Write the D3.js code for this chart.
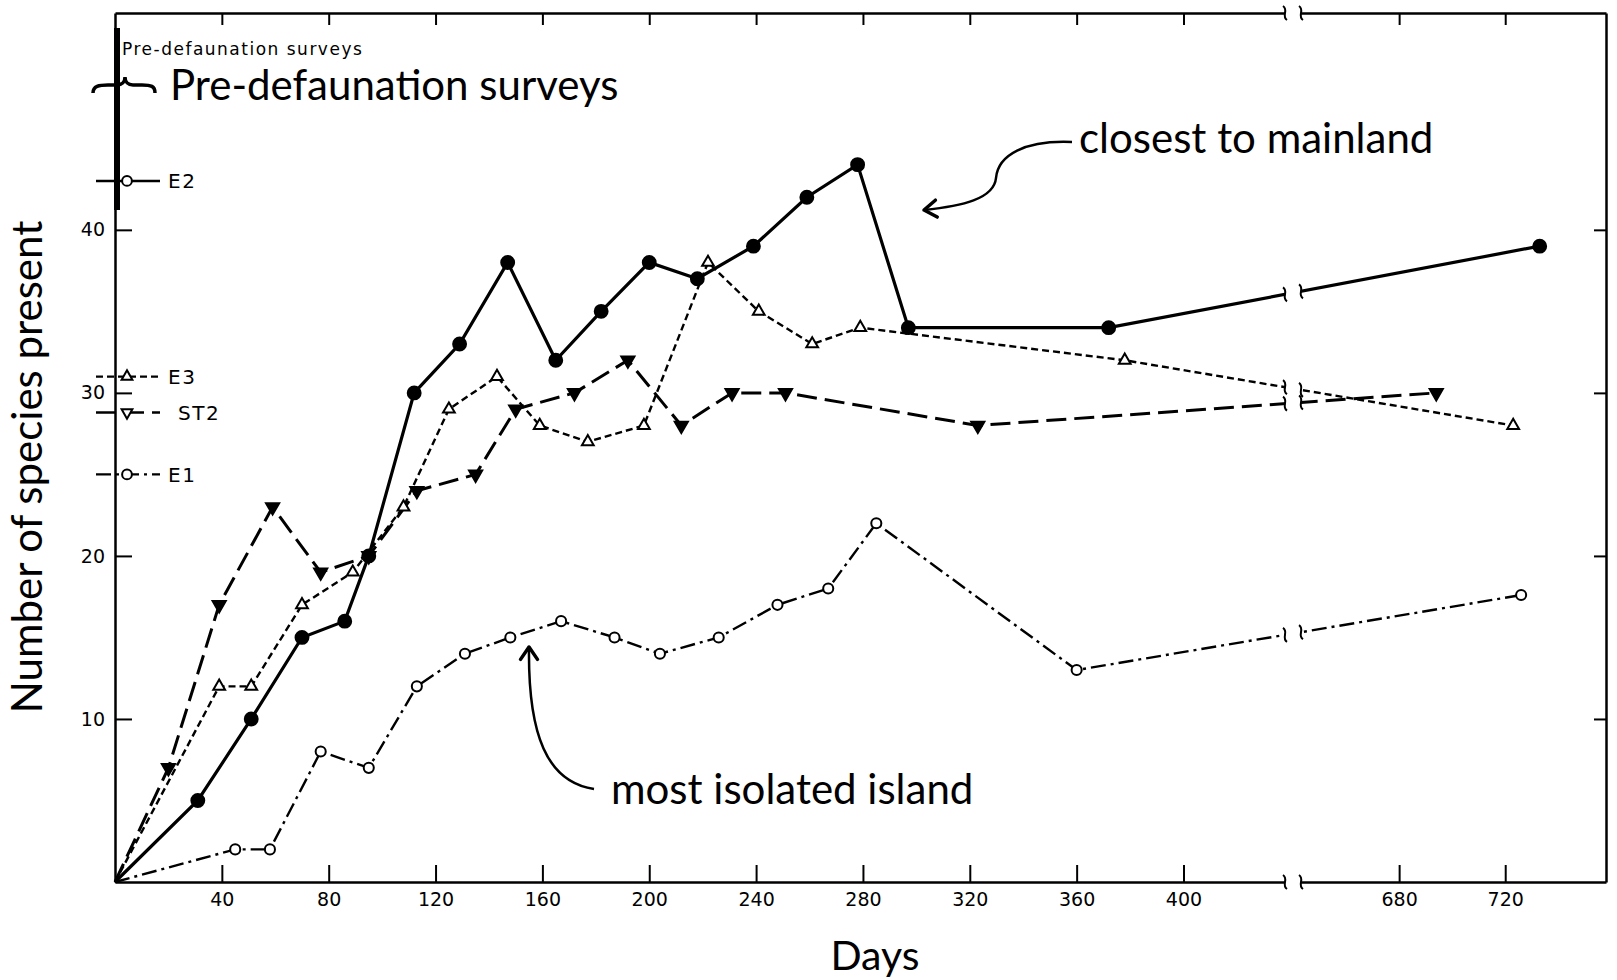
<!DOCTYPE html>
<html>
<head>
<meta charset="utf-8">
<script src="https://cdn.jsdelivr.net/npm/d3@7"></script>
<style>
  body { margin: 0; background: #fff; }
  svg { display: block; }
</style>
</head>
<body>
<script>
// values: days after defaunation vs number of species
const e2Days = [0, 31, 51, 70, 86, 95, 112, 129, 147, 165, 182, 200, 218, 239, 259, 278, 297, 372, 733];
const e2Species = [0, 5, 10, 15, 16, 20, 30, 33, 38, 32, 35, 38, 37, 39, 42, 44, 34, 34, 39];

const e3Days = [0, 39, 51, 70, 89, 108, 125, 143, 159, 177, 198, 222, 241, 261, 279, 378, 723];
const e3Species = [0, 12, 12, 17, 19, 23, 29, 31, 28, 27, 28, 38, 35, 33, 34, 32, 28];

const st2Days = [0, 20, 39, 59, 77, 95, 113, 135, 150, 172, 192, 212, 231, 251, 323, 694];
const st2Species = [0, 7, 17, 23, 19, 20, 24, 25, 29, 30, 32, 28, 30, 30, 28, 30];

const e1Days = [0, 45, 58, 77, 95, 113, 131, 148, 167, 187, 204, 226, 248, 267, 285, 360, 726];
const e1Species = [0, 2, 2, 8, 7, 12, 14, 15, 16, 15, 14, 15, 17, 18, 22, 13, 17.6];

// pre-defaunation species counts (legend marks on the left axis)
const seriesNames = ["E2", "E3", "ST2", "E1"];
const preDefaunation = [43, 31, 28.8, 25];

const xTicks = [40, 80, 120, 160, 200, 240, 280, 320, 360, 400, 680, 720];
const yTicks = [10, 20, 30, 40];
// broken axis: days 438..643 are cut out
const breakFrom = 438, breakTo = 643;

const width = 1617, height = 980;

const svg = d3.select("body")
  .append("svg")
  .attr("width", width)
  .attr("height", height);

svg.append("rect").attr("width", width).attr("height", height).attr("fill", "#fff");

const xScale = d3.scaleLinear().domain([0, breakFrom, breakTo, 758]).range([115, 1285, 1301, 1606]);
const yScale = d3.scaleLinear().domain([0, 53.3]).range([882, 13]);

const tickFont = "'DejaVu Sans', sans-serif";
const noteFont = "Lato, 'Open Sans', sans-serif";

const series = [
  { name: "E2", days: e2Days, species: e2Species, dash: null, lw: 3.2, symbol: d3.symbolCircle, size: 130, fill: "#000", rot: 0 },
  { name: "E3", days: e3Days, species: e3Species, dash: "7,4", lw: 2.4, symbol: d3.symbolTriangle, size: 60, fill: "#fff", rot: 0 },
  { name: "ST2", days: st2Days, species: st2Species, dash: "20,8", lw: 3, symbol: d3.symbolTriangle, size: 75, fill: "#000", rot: 180 },
  { name: "E1", days: e1Days, species: e1Species, dash: "15,5,3,5", lw: 2.4, symbol: d3.symbolCircle, size: 80, fill: "#fff", rot: 0 }
];

// axes (ticks point inward on all four sides)
const styleAxis = g => {
  g.select(".domain").attr("stroke-width", 2.5);
  g.selectAll(".tick line").attr("stroke-width", 2);
  g.selectAll("text").style("font-family", tickFont).style("font-size", "19px").attr("fill", "#000");
};

svg.append("g")
  .attr("transform", "translate(0," + yScale(0) + ")")
  .call(d3.axisBottom(xScale).tickValues(xTicks).tickSizeInner(-17).tickSizeOuter(0).tickPadding(11))
  .call(styleAxis);

svg.append("g")
  .attr("transform", "translate(0," + yScale(53.3) + ")")
  .call(d3.axisTop(xScale).tickValues(xTicks).tickSizeInner(-12).tickSizeOuter(0).tickFormat(""))
  .call(styleAxis);

svg.append("g")
  .attr("transform", "translate(" + xScale(0) + ",0)")
  .call(d3.axisLeft(yScale).tickValues(yTicks).tickSizeInner(-17).tickSizeOuter(0).tickPadding(10))
  .call(styleAxis);

svg.append("g")
  .attr("transform", "translate(" + xScale(758) + ",0)")
  .call(d3.axisRight(yScale).tickValues(yTicks).tickSizeInner(-12).tickSizeOuter(0).tickFormat(""))
  .call(styleAxis);

// data lines
const line = d3.line()
  .x(d => xScale(d[0]))
  .y(d => yScale(d[1]));

series.forEach(s => {
  const pts = s.days.map((d, i) => [d, s.species[i]]);
  svg.append("path")
    .datum(pts)
    .attr("d", line)
    .attr("fill", "none")
    .attr("stroke", "#000")
    .attr("stroke-width", s.lw)
    .attr("stroke-dasharray", s.dash);
});

// cut through the break, then curly marks at both edges
const bL = xScale(breakFrom), bR = xScale(breakTo);
svg.append("rect")
  .attr("x", bL).attr("y", 4)
  .attr("width", bR - bL).attr("height", yScale(0) - 4 + 6)
  .attr("fill", "#fff");

const squiggle = (x, y) =>
  `M${x - 2},${y - 7} C${x + 4},${y - 3} ${x - 4},${y + 3} ${x + 2},${y + 7}`;

const breakMarks = [];
[yScale(0), yScale(53.3)].forEach(y => { breakMarks.push([bL, y], [bR, y]); });
series.forEach(s => {
  const k = s.days.findIndex((d, i) => d < breakFrom && s.days[i + 1] > breakTo);
  if (k < 0) return;
  const x1 = xScale(s.days[k]), y1 = yScale(s.species[k]);
  const x2 = xScale(s.days[k + 1]), y2 = yScale(s.species[k + 1]);
  [bL, bR].forEach(bx => breakMarks.push([bx, y1 + (y2 - y1) * (bx - x1) / (x2 - x1)]));
});

svg.append("g")
  .selectAll("path")
  .data(breakMarks)
  .enter()
  .append("path")
  .attr("d", d => squiggle(d[0], d[1]))
  .attr("fill", "none")
  .attr("stroke", "#000")
  .attr("stroke-width", 2);

// markers (origin point has none)
series.forEach(s => {
  svg.append("g")
    .selectAll("path")
    .data(s.days.map((d, i) => [d, s.species[i]]).filter(d => d[1] > 0))
    .enter()
    .append("path")
    .attr("d", d3.symbol().type(s.symbol).size(s.size))
    .attr("transform", d => "translate(" + xScale(d[0]) + "," + yScale(d[1]) + ") rotate(" + s.rot + ")")
    .attr("fill", s.fill)
    .attr("stroke", "#000")
    .attr("stroke-width", 2);
});

// pre-defaunation marks on the left axis
svg.append("rect")
  .attr("x", xScale(0) - 1).attr("y", 28)
  .attr("width", 6).attr("height", 182)
  .attr("fill", "#000");

series.forEach((s, i) => {
  const y = yScale(preDefaunation[i]);
  svg.append("line")
    .attr("x1", 96).attr("x2", 160)
    .attr("y1", y).attr("y2", y)
    .attr("stroke", "#000")
    .attr("stroke-width", 2.4)
    .attr("stroke-dasharray", s.dash);
  svg.append("path")
    .attr("d", d3.symbol().type(s.symbol).size(s.symbol === d3.symbolCircle ? 75 : 50))
    .attr("transform", "translate(127," + y + ") rotate(" + s.rot + ")")
    .attr("fill", "#fff")
    .attr("stroke", "#000")
    .attr("stroke-width", 2);
  svg.append("text")
    .attr("x", s.name === "ST2" ? 178 : 168)
    .attr("y", y)
    .attr("dy", "0.36em")
    .style("font-family", tickFont)
    .style("font-size", "20px")
    .style("letter-spacing", "1.5px")
    .text(seriesNames[i]);
});

svg.append("text")
  .attr("x", 122).attr("y", 55)
  .style("font-family", tickFont)
  .style("font-size", "17px")
  .style("letter-spacing", "1.5px")
  .text("Pre-defaunation surveys");

// brace
svg.append("path")
  .attr("d", "M93,93 C93,86 99,85 108,85 L117,85 C122,85 125,82 125,77 C125,82 128,85 133,85 L142,85 C151,85 155,86 155,93")
  .attr("fill", "none")
  .attr("stroke", "#000")
  .attr("stroke-width", 3.5);

svg.append("text")
  .attr("x", 170).attr("y", 100)
  .style("font-family", noteFont)
  .style("font-size", "42px")
  .text("Pre-defaunation surveys");

// axis titles
svg.append("text")
  .attr("x", 875).attr("y", 970)
  .attr("text-anchor", "middle")
  .style("font-family", noteFont)
  .style("font-size", "41px")
  .text("Days");

svg.append("text")
  .attr("transform", "translate(42,467) rotate(-90)")
  .attr("text-anchor", "middle")
  .style("font-family", noteFont)
  .style("font-size", "42px")
  .text("Number of species present");

// annotations with curved arrows
const arrowHead = (tip, from) => {
  const a = Math.atan2(tip[1] - from[1], tip[0] - from[0]);
  const len = 15, spread = 0.6;
  const p1 = [tip[0] - len * Math.cos(a - spread), tip[1] - len * Math.sin(a - spread)];
  const p2 = [tip[0] - len * Math.cos(a + spread), tip[1] - len * Math.sin(a + spread)];
  return `M${p1[0]},${p1[1]} L${tip[0]},${tip[1]} L${p2[0]},${p2[1]}`;
};

const notes = [
  { text: "closest to mainland", tx: 1079, ty: 153,
    curve: "M1072,142 C1025,140 998,155 996,178 C994,199 962,206 924,210", tip: [924, 210], from: [960, 206] },
  { text: "most isolated island", tx: 611, ty: 804,
    curve: "M594,789 C547,782 528,735 529,648", tip: [529, 647], from: [529, 675] }
];

notes.forEach(n => {
  svg.append("path").attr("d", n.curve)
    .attr("fill", "none").attr("stroke", "#000").attr("stroke-width", 2.5);
  svg.append("path").attr("d", arrowHead(n.tip, n.from))
    .attr("fill", "none").attr("stroke", "#000").attr("stroke-width", 3.5)
    .attr("stroke-linecap", "round").attr("stroke-linejoin", "round");
  svg.append("text")
    .attr("x", n.tx).attr("y", n.ty)
    .style("font-family", noteFont)
    .style("font-size", "42px")
    .text(n.text);
});
</script>
</body>
</html>
